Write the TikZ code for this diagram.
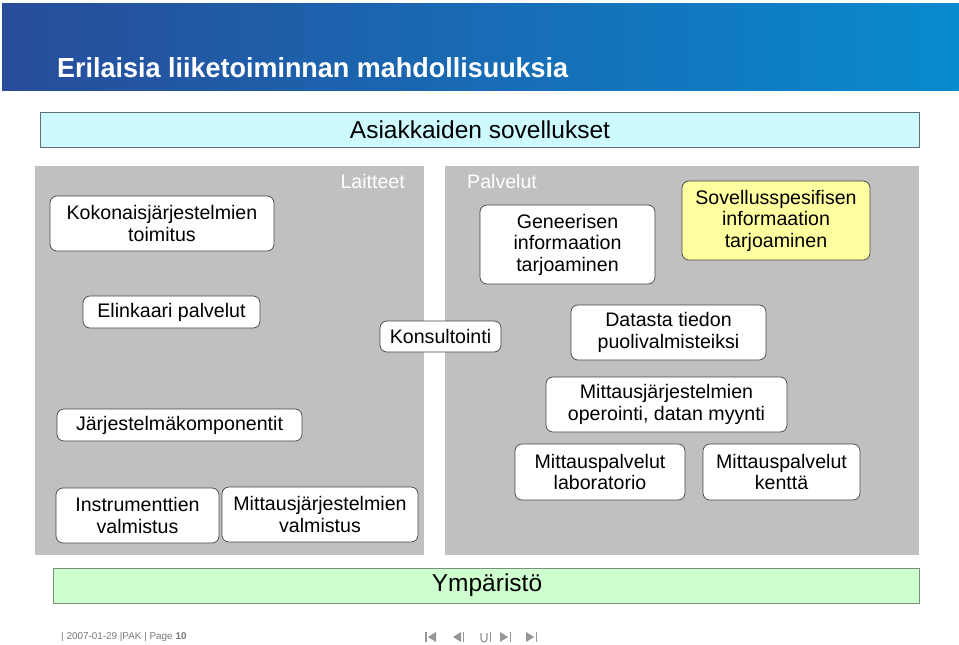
\documentclass[tikz,border=0pt]{standalone}
\usepackage{fontspec}
\setmainfont{Liberation Sans}
\definecolor{hdrL}{RGB}{40,76,154}
\definecolor{hdrR}{RGB}{8,138,206}
\definecolor{panel}{RGB}{192,192,192}
\definecolor{boxline}{RGB}{70,70,70}
\definecolor{cyanbox}{RGB}{204,250,255}
\definecolor{cyanline}{RGB}{96,112,112}
\definecolor{greenbox}{RGB}{206,255,206}
\definecolor{greenline}{RGB}{122,144,122}
\definecolor{yellowbox}{RGB}{255,255,160}
\definecolor{footgray}{RGB}{120,120,120}
\definecolor{navgray}{RGB}{150,150,150}
\begin{document}
\begin{tikzpicture}[x=1pt,y=-1pt,
  box/.style={draw=boxline, fill=white, rounded corners=7pt, line width=0.7pt,
    inner sep=0pt, align=center, font=\fontsize{19.6}{21.5}\selectfont},
  band/.style={line width=0.9pt, inner sep=0pt, font=\fontsize{24.5}{26}\selectfont},
  paneltitle/.style={text=white, inner sep=0pt, font=\fontsize{19.6}{21}\selectfont},
  nav/.style={fill=navgray, draw=none}
]
\useasboundingbox (0,0) rectangle (959,645);
\fill[white] (0,0) rectangle (959,645);
% header
\shade[left color=hdrL, right color=hdrR] (2,3) rectangle (959,90);
\node[anchor=west, text=white, inner sep=0pt] (title) at (57,68)
  {\resizebox{511pt}{20pt}{\bfseries Erilaisia liiketoiminnan mahdollisuuksia}};
% top band
\node[band, draw=cyanline, fill=cyanbox, minimum width=879pt, minimum height=35pt] (asiak) at (479.5,129.5) {};
\node[band] (asiaktxt) at (480,130) {Asiakkaiden sovellukset};
% panels
\fill[panel] (35,166) rectangle (424,555);
\fill[panel] (445,166) rectangle (919,555);
\node[paneltitle, anchor=east] (laitteet) at (405,181) {Laitteet};
\node[paneltitle, anchor=west] (palvelut) at (467,181) {Palvelut};
% boxes
\node[box, minimum width=224pt, minimum height=55pt] (koko) at (162,223.5) {Kokonaisjärjestelmien\\toimitus};
\node[box, minimum width=177pt, minimum height=32pt] (elin) at (171.5,312) {Elinkaari palvelut};
\node[box, minimum width=121pt, minimum height=31pt] (kons) at (440.5,336.5) {Konsultointi};
\node[box, minimum width=175pt, minimum height=79pt] (gene) at (567.5,244.5) {Geneerisen\\informaation\\tarjoaminen};
\node[box, fill=yellowbox, minimum width=188pt, minimum height=79pt] (sove) at (776,220.5) {Sovellusspesifisen\\informaation\\tarjoaminen};
\node[box, minimum width=195pt, minimum height=55pt] (data) at (668.5,332.5) {Datasta tiedon\\puolivalmisteiksi};
\node[box, minimum width=241pt, minimum height=55pt] (oper) at (666.5,404.5) {Mittausjärjestelmien\\operointi, datan myynti};
\node[box, minimum width=245pt, minimum height=32pt] (komp) at (179.5,425) {Järjestelmäkomponentit};
\node[box, minimum width=163pt, minimum height=55pt] (instr) at (137.5,515.5) {Instrumenttien\\valmistus};
\node[box, minimum width=196pt, minimum height=55pt] (mvalm) at (320,514.5) {Mittausjärjestelmien\\valmistus};
\node[box, minimum width=170pt, minimum height=56pt] (lab) at (600,472) {Mittauspalvelut\\laboratorio};
\node[box, minimum width=157pt, minimum height=56pt] (kentta) at (781.5,472) {Mittauspalvelut\\kenttä};
% bottom band
\node[band, draw=greenline, fill=greenbox, minimum width=866pt, minimum height=35pt] (ymp) at (486,585.5) {};
\node[band] (ymptxt) at (487,585) {Ympäristö};
% footer
\node[anchor=west, inner sep=0pt, text=footgray, font=\fontsize{9.9}{11}\selectfont] (foot) at (61,637)
  {| 2007-01-29 |PAK | Page \textbf{10}};
% navigation icons
\fill[nav] (425,632) rectangle (426.5,642);
\fill[nav] (436,632) -- (428,637) -- (436,642) -- cycle;
\fill[nav] (461,632) -- (453,637) -- (461,642) -- cycle;
\fill[nav] (462.5,632) rectangle (464,642);
\draw[navgray, line width=1.2pt] (481,633) -- (481,639) arc[start angle=180, end angle=360, radius=3pt] -- (487,633);
\fill[nav] (489.5,632) rectangle (491,642);
\fill[nav] (500,632) -- (508,637) -- (500,642) -- cycle;
\fill[nav] (509.5,632) rectangle (511,642);
\fill[nav] (526,632) -- (534,637) -- (526,642) -- cycle;
\fill[nav] (535.5,632) rectangle (537,642);
\end{tikzpicture}
\end{document}
